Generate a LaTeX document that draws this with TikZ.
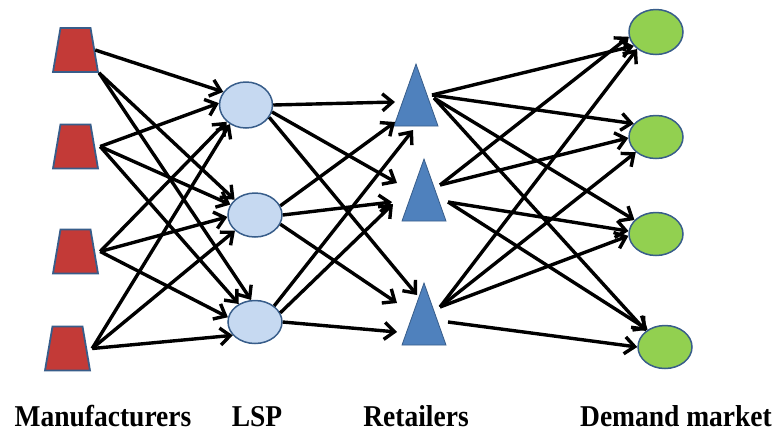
\documentclass[tikz,border=0pt]{standalone}
\usepackage{fontspec}
\setmainfont{Liberation Serif}
\usetikzlibrary{shapes.geometric,arrows.meta,calc}
\definecolor{mred}{RGB}{195,58,55}
\definecolor{lblue}{RGB}{198,217,241}
\definecolor{tblue}{RGB}{79,129,189}
\definecolor{dgreen}{RGB}{146,208,80}
\definecolor{edgeb}{RGB}{56,93,138}
\begin{document}
\begin{tikzpicture}[x=1pt,y=-1pt,
 mfg/.style={trapezium, trapezium left angle=76, trapezium right angle=76, trapezium stretches=true, minimum width=45pt, minimum height=44pt, inner sep=1pt, fill=mred, draw=edgeb, line width=1.8pt},
 lsp/.style={ellipse, fill=lblue, draw=edgeb, line width=1.5pt, inner sep=0pt},
 ret/.style={isosceles triangle, shape border rotate=90, isosceles triangle stretches, minimum width=44pt, minimum height=62pt, inner sep=1pt, fill=tblue, draw=edgeb, line width=0.8pt},
 dem/.style={ellipse, fill=dgreen, draw=edgeb, line width=1.5pt, inner sep=0pt, minimum width=54pt, minimum height=43pt},
 flow/.style={draw=black, line width=3.4pt, -{Straight Barb[length=10pt,width=17pt]}},
 lab/.style={font=\fontsize{27.5}{30}\selectfont\bfseries, inner sep=0pt, anchor=base}]
\useasboundingbox (0,0) rectangle (775,432);
% manufacturers
\node[mfg] (M1) at (75.5,50) {};
\node[mfg] (M2) at (75.5,146.5) {};
\node[mfg] (M3) at (75.5,251.5) {};
\node[mfg] (M4) at (67.5,348.5) {};
% LSP
\node[lsp, minimum width=53pt, minimum height=46pt] (L1) at (246,105) {};
\node[lsp, minimum width=54pt, minimum height=44pt] (L2) at (255,215) {};
\node[lsp, minimum width=54pt, minimum height=43pt] (L3) at (255,322) {};
% retailers
\node[ret, anchor=apex] (R1) at (416,63) {};
\node[ret, anchor=apex] (R2) at (424,158) {};
\node[ret, anchor=apex] (R3) at (424,282) {};
% demand markets
\node[dem, minimum height=45pt] (D1) at (656,32) {};
\node[dem] (D2) at (656,137) {};
\node[dem] (D3) at (656,234) {};
\node[dem] (D4) at (665,347) {};
% manufacturers -> LSP
\draw[flow] (M1.east) -- (L1.150);
\draw[flow] (M1.bottom right corner) -- (L2.143);
\draw[flow] (M1.bottom right corner) -- (L3.100);
\draw[flow] ($(M2.east)+(5,0)$) -- (L1.176);
\draw[flow] ($(M2.east)+(5,0)$) -- (L2.157);
\draw[flow] ($(M2.east)+(5,0)$) -- (L3.132);
\draw[flow] ($(M3.east)+(5,0)$) -- (L1.221);
\draw[flow] ($(M3.east)+(5,0)$) -- (L2.184);
\draw[flow] ($(M3.east)+(5,0)$) -- (L3.170);
\draw[flow] ($(M4.east)+(5,0)$) -- (L1.230);
\draw[flow] ($(M4.east)+(5,0)$) -- (L2.218);
\draw[flow] ($(M4.east)+(5,0)$) -- (L3.211);
% LSP -> retailers
\draw[flow] (L1.0) -- ($(R1.apex)+(-21,39)$);
\draw[flow] (L1.-15) -- ($(R2.apex)+(-27,25)$);
\draw[flow] (L1.-28) -- ($(R3.apex)+(-7,13)$);
\draw[flow] (L2.20) -- ($(R1.apex)+(-21,59)$);
\draw[flow] (L2.0) -- ($(R2.apex)+(-32,44)$);
\draw[flow] (L2.-20) -- ($(R3.apex)+(-27,21)$);
\draw[flow] (L3.40) -- ($(R1.apex)+(-3,67)$);
\draw[flow] (L3.20) -- ($(R2.apex)+(-31,46)$);
\draw[flow] (L3.0) -- ($(R3.apex)+(-27,50)$);
% retailers -> demand markets
\draw[flow] ($(R1.apex)+(16,32)$) -- (D1.212);
\draw[flow] ($(R1.apex)+(16,32)$) -- (D2.149);
\draw[flow] ($(R1.apex)+(18,35)$) -- (D3.147);
\draw[flow] ($(R1.apex)+(18,35)$) -- (D4.140);
\draw[flow] ($(R2.apex)+(16,27)$) -- (D1.190);
\draw[flow] ($(R2.apex)+(16,27)$) -- (D2.182);
\draw[flow] ($(R2.apex)+(24,44)$) -- (D3.174);
\draw[flow] ($(R2.apex)+(24,44)$) -- (D4.135);
\draw[flow] ($(R3.apex)+(16,25)$) -- (D1.222);
\draw[flow] ($(R3.apex)+(16,25)$) -- (D2.217);
\draw[flow] ($(R3.apex)+(16,25)$) -- (D3.184);
\draw[flow] ($(R3.apex)+(24,40)$) -- (D4.180);
% labels
\node[lab] (T1) at (103,426) {\scalebox{1}[1.1]{Manufacturers}};
\node[lab] (T2) at (257,426) {\scalebox{1}[1.1]{LSP}};
\node[lab] (T3) at (416,426) {\scalebox{1}[1.1]{Retailers}};
\node[lab] (T4) at (676,426) {\scalebox{1}[1.1]{Demand market}};
\end{tikzpicture}
\end{document}
